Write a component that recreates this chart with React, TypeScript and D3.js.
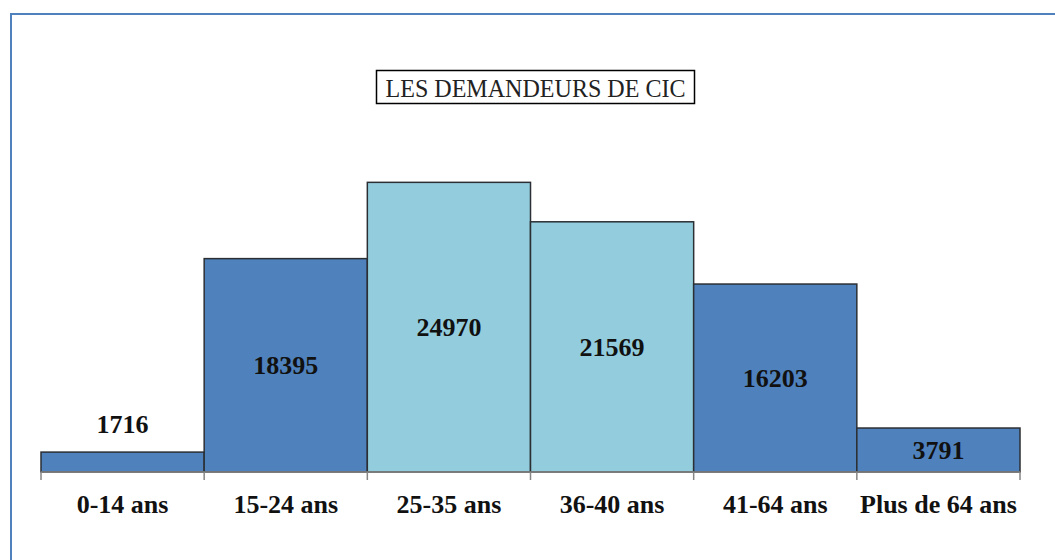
import React from "react";
import { scaleBand, scaleLinear } from "d3";

// age groups and counts
const categories = ["0-14 ans", "15-24 ans", "25-35 ans", "36-40 ans", "41-64 ans", "Plus de 64 ans"];
const values = [1716, 18395, 24970, 21569, 16203, 3791];
const highlighted = [false, false, true, true, false, false];

const W = 1055;
const H = 560;
const margin = { top: 124, right: 35, bottom: 88, left: 41 };
const baseY = H - margin.bottom;

const App = () => {
  const x = scaleBand<string>()
    .domain(categories)
    .range([margin.left, W - margin.right])
    .padding(0);

  const y = scaleLinear().domain([0, 30000]).range([baseY, margin.top]);

  const ticks = categories.map((c) => x(c) as number).concat([W - margin.right]);

  return (
    <svg
      width={W}
      height={H}
      style={{ position: "absolute", left: 0, top: 0, background: "#fff" }}
    >
      {/* outer frame, runs off to the right and bottom */}
      <rect x={11} y={14} width={W + 20} height={H + 20} fill="white" stroke="#4F81BD" strokeWidth={2} />

      {/* title */}
      <rect x={376.5} y={70.5} width={318} height={33} fill="white" stroke="#000" strokeWidth={1.5} />
      <text
        x={535.5}
        y={97}
        textAnchor="middle"
        fontFamily="'Liberation Serif', 'DejaVu Serif', serif"
        fontSize={26}
        textLength={300}
        lengthAdjust="spacingAndGlyphs"
        fill="#222"
      >
        LES DEMANDEURS DE CIC
      </text>

      {/* bars */}
      {categories.map((c, i) => (
        <rect
          key={c}
          x={x(c)}
          y={y(values[i])}
          width={x.bandwidth()}
          height={baseY - y(values[i])}
          fill={highlighted[i] ? "#93CDDD" : "#4F81BD"}
          stroke="#2b2f33"
          strokeWidth={1.5}
        />
      ))}

      {/* axis line and ticks */}
      <line x1={margin.left} x2={W - margin.right} y1={baseY} y2={baseY} stroke="#868686" strokeWidth={1.5} />
      {ticks.map((t, i) => (
        <line key={i} x1={t} x2={t} y1={baseY} y2={baseY + 8} stroke="#868686" strokeWidth={1.5} />
      ))}

      {/* value labels */}
      {categories.map((c, i) => {
        const h = baseY - y(values[i]);
        const cy = h < 30 ? y(values[i]) - 28 : y(values[i]) + h / 2;
        return (
          <text
            key={c}
            x={(x(c) as number) + x.bandwidth() / 2}
            y={cy + 9}
            textAnchor="middle"
            fontFamily="'Liberation Serif', 'Times New Roman', serif"
            fontWeight="bold"
            fontSize={26}
            fill="#111"
          >
            {values[i]}
          </text>
        );
      })}

      {/* category labels */}
      {categories.map((c) => (
        <text
          key={c}
          x={(x(c) as number) + x.bandwidth() / 2}
          y={513}
          textAnchor="middle"
          fontFamily="'Liberation Serif', 'Times New Roman', serif"
          fontWeight="bold"
          fontSize={26}
          fill="#111"
        >
          {c}
        </text>
      ))}
    </svg>
  );
};

export default App;
